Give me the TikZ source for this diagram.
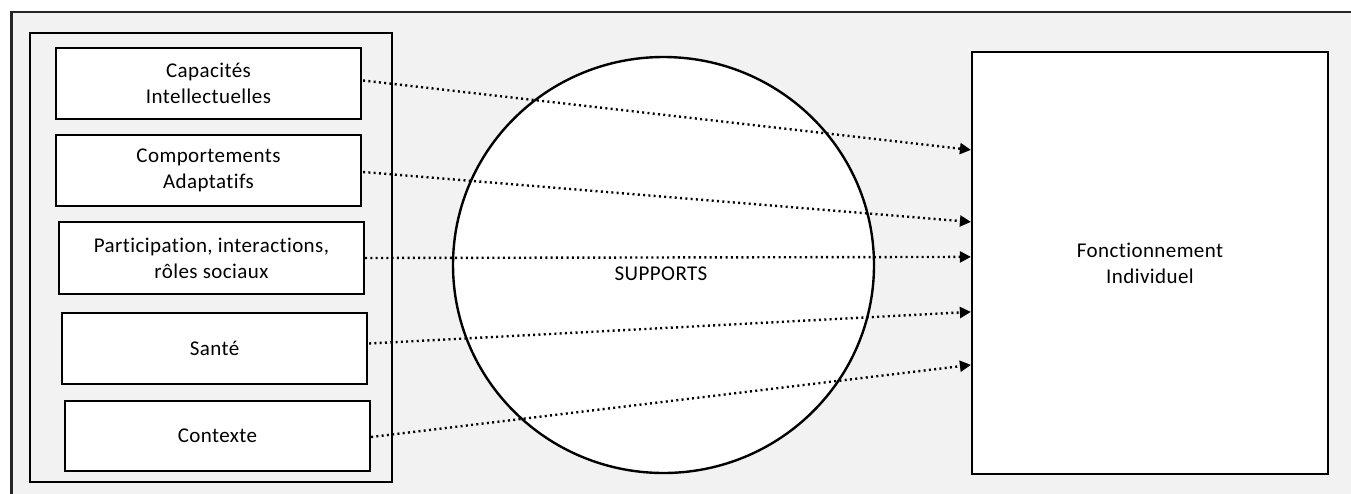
\documentclass[tikz,border=0pt]{standalone}
\usepackage{fontspec}
\setmainfont{Carlito}[Ligatures=NoCommon,LetterSpace=2]
\usetikzlibrary{arrows.meta,calc,shapes.geometric}
\definecolor{bg}{HTML}{F2F2F2}
\begin{document}
\begin{tikzpicture}[x=1pt,y=-1pt,
  txt/.style={font=\fontsize{21}{25.7}\selectfont,align=center},
  box/.style={txt,draw,line width=2.2pt,fill=white,minimum width=305pt,minimum height=71pt,inner sep=0pt},
  link/.style={line width=2.4pt,dash pattern=on 2pt off 3.3pt,-{Triangle[length=11pt,width=11pt]}}]
\useasboundingbox (0,0) rectangle (1351,493);
\clip (0,0) rectangle (1351,493);
\fill[bg] (11.5,11.7) rectangle (1360,500);
\draw[line width=2.2pt,black!85] (11.5,500) -- (11.5,11.7) -- (1360,11.7);
\node[draw,line width=2.2pt,minimum width=362pt,minimum height=449pt,inner sep=0pt] (grp) at (211,257.5) {};
\node[box] (b1) at (208.5,83.5) {Capacités\\Intellectuelles};
\node[box] (b2) at (208.5,170.5) {Comportements\\Adaptatifs};
\node[box,minimum height=72pt] (b3) at (211.5,258) {Participation, interactions,\\rôles sociaux};
\node[box] (b4) at (214.5,348.5) {Santé};
\node[box,minimum height=70pt] (b5) at (217.5,436) {Contexte};
\node[draw,ellipse,line width=2.4pt,fill=white,minimum width=421pt,minimum height=416pt,inner sep=0pt] (sup) at (663.5,265) {};
\node[txt] (suptxt) at (661,274) {SUPPORTS};
\node[txt,draw,line width=2.2pt,fill=white,minimum width=356pt,minimum height=422pt,inner sep=0pt] (fb) at (1150,263) {Fonctionnement\\Individuel};
\draw[link] ($(b1.east)+(1,-3)$) -- ($(fb.north west)+(0,99)$);
\draw[link] ($(b2.east)+(1,1.5)$) -- ($(fb.north west)+(0,171)$);
\draw[link] ($(b3.east)+(0,0)$) -- ($(fb.north west)+(0,206)$);
\draw[link] ($(b4.east)+(1,-5)$) -- ($(fb.north west)+(0,261)$);
\draw[link] ($(b5.east)+(0,1)$) -- ($(fb.north west)+(0,314)$);
\end{tikzpicture}
\end{document}
